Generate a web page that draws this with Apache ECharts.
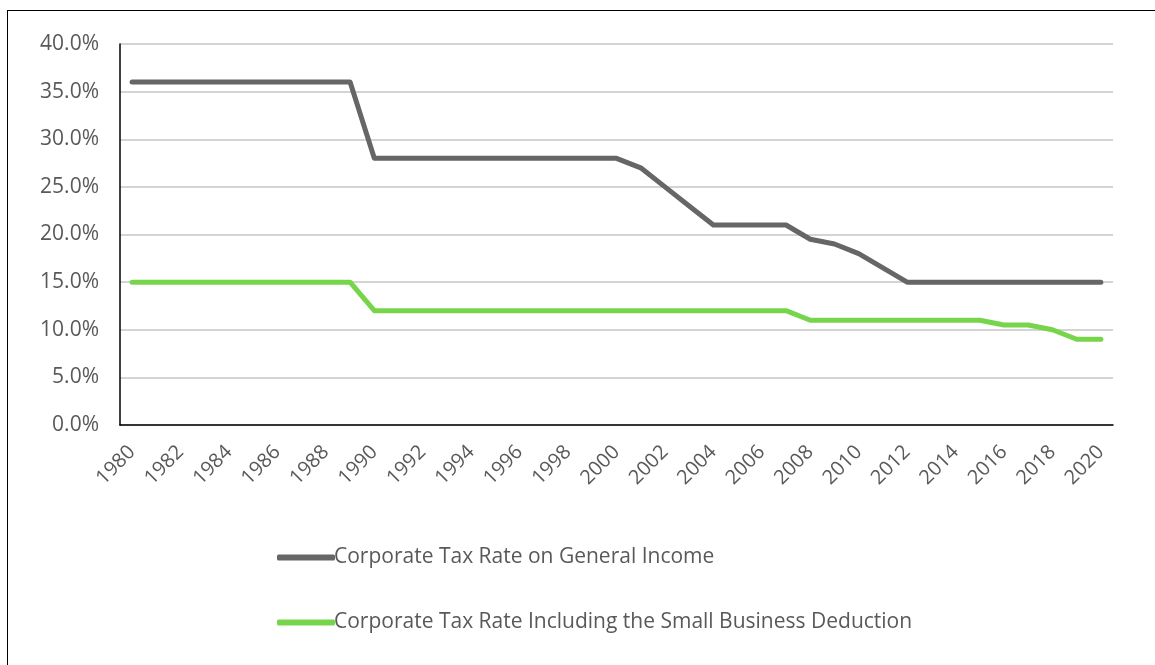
<!DOCTYPE html>
<html>
<head>
<meta charset="utf-8">
<script src="https://cdn.jsdelivr.net/npm/echarts@6/dist/echarts.min.js"></script>
<style>
  html, body { margin: 0; padding: 0; background: #fff; }
  #frame { position: absolute; left: 7px; top: 10px; width: 1200px; height: 700px; border: 1.5px solid #000; }
  #chart { position: absolute; left: 0; top: 0; width: 1155px; height: 665px; }
</style>
</head>
<body>
<div id="frame"></div>
<div id="chart"></div>
<script>
// years 1980..2020
var years = [];
for (var y = 1980; y <= 2020; y++) { years.push(String(y)); }

var generalRate = [
  36, 36, 36, 36, 36, 36, 36, 36, 36, 36,   // 1980-1989
  28, 28, 28, 28, 28, 28, 28, 28, 28, 28,   // 1990-1999
  28, 27, 25, 23, 21, 21, 21, 21, 19.5, 19, // 2000-2009
  18, 16.5, 15, 15, 15, 15, 15, 15, 15, 15, // 2010-2019
  15                                        // 2020
];

var smallBizRate = [
  15, 15, 15, 15, 15, 15, 15, 15, 15, 15,
  12, 12, 12, 12, 12, 12, 12, 12, 12, 12,
  12, 12, 12, 12, 12, 12, 12, 12, 11, 11,
  11, 11, 11, 11, 11, 11, 10.5, 10.5, 10, 9,
  9
];

var seriesNames = ['Corporate Tax Rate on General Income', 'Corporate Tax Rate Including the Small Business Deduction'];

var chart = echarts.init(document.getElementById('chart'));
var font = '"Open Sans", "Noto Sans", sans-serif';

chart.setOption({
  animation: false,
  grid: {
    left: 120,
    right: 42,
    top: 44,
    bottom: 240
  },
  legend: {
    orient: 'vertical',
    left: 272,
    top: 542,
    itemGap: 44,
    itemWidth: 58,
    itemHeight: 6,
    icon: 'roundRect',
    textStyle: { color: '#595959', fontSize: 21, fontFamily: font, padding: [0, 0, 0, -6] },
    data: seriesNames
  },
  xAxis: {
    type: 'category',
    boundaryGap: true,
    data: years,
    axisLine: { lineStyle: { color: '#000', width: 1.5 } },
    axisTick: { show: false },
    axisLabel: {
      interval: 1,
      rotate: 45,
      color: '#595959',
      fontSize: 20,
      fontFamily: font,
      margin: 24
    }
  },
  yAxis: {
    type: 'value',
    min: 0,
    max: 40,
    interval: 5,
    axisLine: { show: true, lineStyle: { color: '#000', width: 1.5 } },
    axisTick: { show: false },
    splitLine: { lineStyle: { color: '#c6c6c6', width: 1.5 } },
    axisLabel: {
      color: '#595959',
      fontSize: 21,
      fontFamily: font,
      margin: 21,
      formatter: function (v) { return v.toFixed(1) + '%'; }
    }
  },
  series: [
    {
      name: seriesNames[0],
      type: 'line',
      data: generalRate,
      symbol: 'none',
      color: '#666666',
      lineStyle: { width: 5, cap: 'round', join: 'round' }
    },
    {
      name: seriesNames[1],
      type: 'line',
      data: smallBizRate,
      symbol: 'none',
      color: '#77d54c',
      lineStyle: { width: 5, cap: 'round', join: 'round' }
    }
  ]
});
</script>
</body>
</html>
